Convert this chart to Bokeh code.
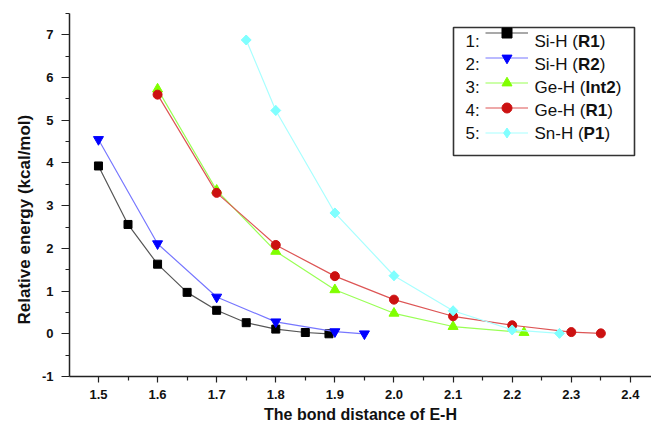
import math
from bokeh.plotting import figure
from bokeh.models import (Range1d, FixedTicker, PrintfTickFormatter, Legend, LegendItem,
                          Label, BoxAnnotation, ColumnDataSource, Title)
from bokeh.embed import file_html
from bokeh.resources import INLINE

# ---- data ----
x_si_r1 = [1.50, 1.55, 1.60, 1.65, 1.70, 1.75, 1.80, 1.85, 1.89]
y_si_r1 = [3.93, 2.56, 1.63, 0.97, 0.55, 0.26, 0.11, 0.03, 0.00]
x_si_r2 = [1.50, 1.60, 1.70, 1.80, 1.90, 1.95]
y_si_r2 = [4.55, 2.11, 0.86, 0.28, 0.05, 0.00]
x_ge_int2 = [1.60, 1.70, 1.80, 1.90, 2.00, 2.10, 2.22]
y_ge_int2 = [5.73, 3.36, 1.93, 1.03, 0.48, 0.17, 0.03]
x_ge_r1 = [1.60, 1.70, 1.80, 1.90, 2.00, 2.10, 2.20, 2.30, 2.35]
y_ge_r1 = [5.60, 3.30, 2.08, 1.35, 0.80, 0.41, 0.20, 0.04, 0.01]
x_sn_p1 = [1.75, 1.80, 1.90, 2.00, 2.10, 2.20, 2.28]
y_sn_p1 = [6.88, 5.23, 2.83, 1.36, 0.54, 0.09, 0.01]

legend_nums = ["1:", "2:", "3:", "4:", "5:"]
legend_names = ["Si-H (", "Si-H (", "Ge-H (", "Ge-H (", "Sn-H ("]
legend_bold = ["R1", "R2", "Int2", "R1", "P1"]

x_ticks = [1.5, 1.6, 1.7, 1.8, 1.9, 2.0, 2.1, 2.2, 2.3, 2.4]
x_minor = [1.45, 1.55, 1.65, 1.75, 1.85, 1.95, 2.05, 2.15, 2.25, 2.35, 2.45]
y_ticks = [-1, 0, 1, 2, 3, 4, 5, 6, 7]
y_minor = [-0.5, 0.5, 1.5, 2.5, 3.5, 4.5, 5.5, 6.5, 7.5]

FONT = "Liberation Sans"

p = figure(width=651, height=425, output_backend="svg", toolbar_location=None,
           x_range=Range1d(1.451, 2.4357), y_range=Range1d(-1, 7.5),
           min_border_left=69, min_border_right=0, min_border_top=13, min_border_bottom=43)
p.outline_line_color = None
p.background_fill_color = "white"
p.border_fill_color = "white"
p.xgrid.visible = False
p.ygrid.visible = False

p.xaxis.ticker = FixedTicker(ticks=x_ticks, minor_ticks=x_minor)
p.yaxis.ticker = FixedTicker(ticks=y_ticks, minor_ticks=y_minor)
p.xaxis.formatter = PrintfTickFormatter(format="%.1f")
p.yaxis.formatter = PrintfTickFormatter(format="%d")
for ax in (p.xaxis[0], p.yaxis[0]):
    ax.axis_line_color = "#222222"
    ax.axis_line_width = 1.5
    ax.major_tick_line_color = "#222222"
    ax.minor_tick_line_color = "#222222"
    ax.major_tick_line_width = 1.2
    ax.minor_tick_line_width = 1.2
    ax.major_tick_in = 0
    ax.minor_tick_in = 0
    ax.minor_tick_out = 4
    ax.major_label_text_font = FONT
    ax.major_label_text_font_style = "bold"
    ax.major_label_text_font_size = "13px"
    ax.major_label_text_color = "#111111"
p.xaxis.major_tick_out = 6
p.yaxis.major_tick_out = 8
p.xaxis.major_label_standoff = 7
p.yaxis.major_label_standoff = 8
p.xaxis.axis_label = "The bond distance of E-H"
p.xaxis.axis_label_text_font = FONT
p.xaxis.axis_label_text_font_style = "bold"
p.xaxis.axis_label_text_font_size = "16px"
p.xaxis.axis_label_text_color = "#111111"
p.xaxis.axis_label_standoff = 4

ytitle = Title(text="Relative energy (kcal/mol)", align="left", offset=52,
               text_font=FONT, text_font_style="bold", text_font_size="17px",
               text_color="#111111")
p.add_layout(ytitle, "left")

series = [
    (x_si_r1, y_si_r1, "#000000", "#555555", "square", 8, 0.0),
    (x_si_r2, y_si_r2, "#0000ff", "#7777ff", "inverted_triangle", 10, 0.0),
    (x_ge_int2, y_ge_int2, "#80ff00", "#99ff55", "triangle", 10, 0.0),
    (x_ge_r1, y_ge_r1, "#cc1111", "#dd5555", "circle", 9, 0.0),
    (x_sn_p1, y_sn_p1, "#80ffff", "#a8ffff", "square", 7, math.pi / 4),
]

items = []
for xs, ys, mc, lc, mk, sz, ang in series:
    src = ColumnDataSource(dict(x=xs, y=ys))
    lr = p.line("x", "y", source=src, line_color=lc, line_width=1.2)
    if ang:
        # diamond used as legend sample; hidden under the rotated squares in the plot
        dr = p.scatter("x", "y", source=src, marker="diamond", size=9.6,
                       fill_color=mc, line_color=mc)
        sr = p.scatter("x", "y", source=src, marker=mk, size=sz, angle=ang,
                       fill_color=mc, line_color=mc)
        items.append(LegendItem(label=" ", renderers=[lr, dr]))
    else:
        sr = p.scatter("x", "y", source=src, marker=mk, size=sz,
                       fill_color=mc, line_color=mc)
        items.append(LegendItem(label=" ", renderers=[lr, sr]))

# legend frame (screen units relative to plot frame)
box = BoxAnnotation(left=384, right=565, top=349, bottom=221,
                    left_units="screen", right_units="screen",
                    top_units="screen", bottom_units="screen",
                    fill_color="white", fill_alpha=1.0,
                    line_color="#333333", line_width=1.6, line_alpha=1.0)
p.add_layout(box)

legend = Legend(items=items, location=(416, 231), padding=0, margin=0, spacing=-2,
                glyph_width=43, glyph_height=25, label_height=25, label_width=1,
                label_standoff=0, label_text_font_size="1px",
                border_line_color=None, background_fill_alpha=0.0)
p.add_layout(legend)

# legend texts (approximate Arial widths per 1000 em)
reg_w = {"S": 667, "i": 222, "-": 333, "H": 722, " ": 278, "(": 333, ")": 333,
         "G": 778, "e": 556, "n": 556}
bold_w = {"R": 722, "1": 556, "2": 556, "I": 278, "n": 611, "t": 333, "P": 667}
fs = 17
for i in range(5):
    yc = 382 - (47 + 23 * i)
    p.add_layout(Label(x=396, y=yc, x_units="screen", y_units="screen", text=legend_nums[i],
                       text_font=FONT, text_font_size=f"{fs}px", text_baseline="middle",
                       text_align="left", text_color="#111111"))
    x0 = 465
    p.add_layout(Label(x=x0, y=yc, x_units="screen", y_units="screen", text=legend_names[i],
                       text_font=FONT, text_font_size=f"{fs}px", text_baseline="middle",
                       text_align="left", text_color="#111111"))
    x1 = x0 + sum(reg_w[c] for c in legend_names[i]) * fs / 1000
    p.add_layout(Label(x=x1, y=yc, x_units="screen", y_units="screen", text=legend_bold[i],
                       text_font=FONT, text_font_size=f"{fs}px", text_font_style="bold",
                       text_baseline="middle", text_align="left", text_color="#111111"))
    x2 = x1 + sum(bold_w[c] for c in legend_bold[i]) * fs / 1000
    p.add_layout(Label(x=x2, y=yc, x_units="screen", y_units="screen", text=")",
                       text_font=FONT, text_font_size=f"{fs}px", text_baseline="middle",
                       text_align="left", text_color="#111111"))

open("out.html", "w").write(file_html(p, INLINE))
